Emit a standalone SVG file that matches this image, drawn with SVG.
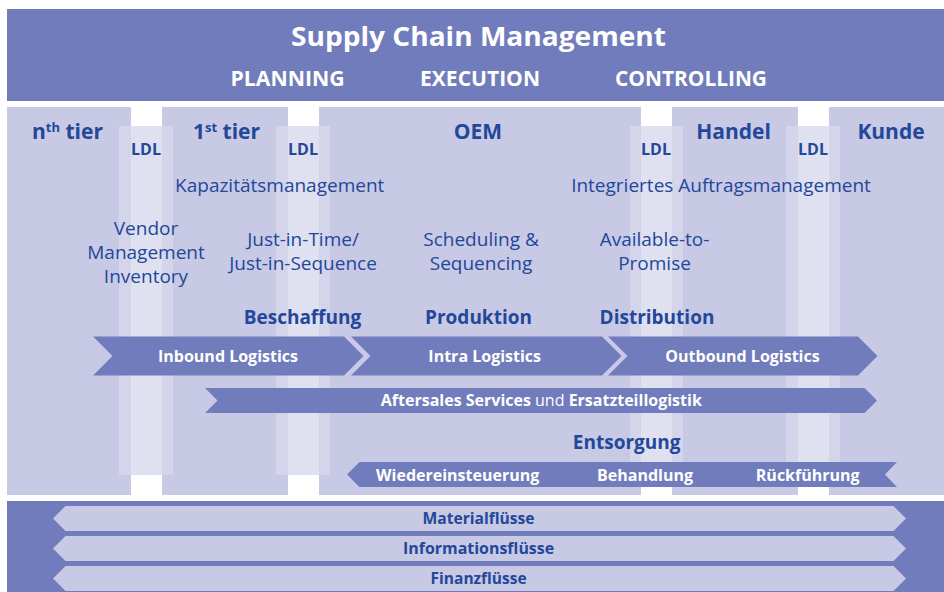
<svg xmlns="http://www.w3.org/2000/svg" width="944" height="592" viewBox="0 0 944 592">
<defs>
<style>
.dark{fill:#717cbc}
.col{fill:#c8c9e5}
.strip{fill:#d4d5ea}
.gap{fill:#dfe0f0}
.flow{fill:#c8c9e5}
text{font-family:"Open Sans","Noto Sans","Liberation Sans",sans-serif}
.hw{fill:#ffffff;font-weight:700;text-anchor:middle}
.hd{fill:#23479a;font-weight:700;font-size:21px;text-anchor:middle}
.ldl{fill:#23479a;font-weight:700;font-size:16px;text-anchor:middle}
.bt{fill:#23479a;font-size:19px;text-anchor:middle}
.sec{fill:#23479a;font-weight:700;font-size:19px;text-anchor:middle}
.at{fill:#ffffff;font-weight:700;font-size:16px;text-anchor:middle}
.ft{fill:#23479a;font-weight:700;font-size:16px;text-anchor:middle}
</style>
</defs>
<rect x="0" y="0" width="944" height="592" fill="#ffffff"/>

<g id="header">
<rect class="dark" x="7" y="9" width="937" height="92"/>
<text class="hw" x="478.5" y="46" font-size="27" textLength="375" lengthAdjust="spacingAndGlyphs">Supply Chain Management</text>
<text class="hw" x="287.5" y="86" font-size="21" textLength="114" lengthAdjust="spacingAndGlyphs">PLANNING</text>
<text class="hw" x="480" y="86" font-size="21" textLength="120" lengthAdjust="spacingAndGlyphs">EXECUTION</text>
<text class="hw" x="691" y="86" font-size="21" textLength="152" lengthAdjust="spacingAndGlyphs">CONTROLLING</text>
</g>

<g id="columns">
<rect class="col" x="7" y="107" width="124" height="388"/>
<rect class="col" x="162" y="107" width="126" height="388"/>
<rect class="col" x="319" y="107" width="322" height="388"/>
<rect class="col" x="672" y="107" width="126" height="388"/>
<rect class="col" x="829" y="107" width="115" height="388"/>
</g>

<g id="ldl-strips">
<rect class="strip" x="119" y="126" width="54" height="349"/>
<rect class="gap" x="131" y="126" width="31" height="349"/>
<rect class="strip" x="276" y="126" width="54" height="349"/>
<rect class="gap" x="288" y="126" width="31" height="349"/>
<rect class="strip" x="630" y="126" width="53" height="349"/>
<rect class="gap" x="641" y="126" width="31" height="349"/>
<rect class="strip" x="786" y="126" width="54" height="349"/>
<rect class="gap" x="798" y="126" width="31" height="349"/>
</g>

<g id="tier-n">
<text class="hd" x="32" y="139" text-anchor="start" style="text-anchor:start">n<tspan font-size="13" dy="-7">th</tspan><tspan dy="7"> tier</tspan></text>
</g>
<g id="tier-1">
<text class="hd" x="193" y="139" style="text-anchor:start">1<tspan font-size="13" dy="-7">st</tspan><tspan dy="7"> tier</tspan></text>
</g>
<g id="oem"><text class="hd" x="478" y="139">OEM</text></g>
<g id="handel"><text class="hd" x="733.5" y="139">Handel</text></g>
<g id="kunde"><text class="hd" x="891" y="139">Kunde</text></g>

<g id="ldl-labels">
<text class="ldl" x="146" y="155">LDL</text>
<text class="ldl" x="303" y="155">LDL</text>
<text class="ldl" x="656" y="155">LDL</text>
<text class="ldl" x="813" y="155">LDL</text>
</g>

<g id="kapazitaet"><text class="bt" x="279.7" y="191.5">Kapazitätsmanagement</text></g>
<g id="auftrag"><text class="bt" x="721" y="191.5">Integriertes Auftragsmanagement</text></g>
<g id="vmi">
<text class="bt" x="146" y="234.5">Vendor</text>
<text class="bt" x="146" y="258.5">Management</text>
<text class="bt" x="146" y="282.5">Inventory</text>
</g>
<g id="jit">
<text class="bt" x="303" y="245.5">Just-in-Time/</text>
<text class="bt" x="303" y="269.5">Just-in-Sequence</text>
</g>
<g id="scheduling">
<text class="bt" x="481" y="245.5">Scheduling &amp;</text>
<text class="bt" x="481" y="269.5">Sequencing</text>
</g>
<g id="atp">
<text class="bt" x="654.5" y="245.5">Available-to-</text>
<text class="bt" x="654.5" y="269.5">Promise</text>
</g>

<g id="sections">
<text class="sec" x="302.5" y="323.5">Beschaffung</text>
<text class="sec" x="478.5" y="323.5">Produktion</text>
<text class="sec" x="657" y="323.5">Distribution</text>
<text class="sec" x="626.7" y="448.5">Entsorgung</text>
</g>

<g id="inbound">
<polygon class="dark" points="93,336.5 344,336.5 363.5,356 344,375.5 93,375.5 112.5,356"/>
<text class="at" x="228" y="361.5">Inbound Logistics</text>
</g>
<g id="intra">
<polygon class="dark" points="351,336.5 602,336.5 621.5,356 602,375.5 351,375.5 370.5,356"/>
<text class="at" x="484.7" y="361.5">Intra Logistics</text>
</g>
<g id="outbound">
<polygon class="dark" points="608,336.5 858,336.5 877.5,356 858,375.5 608,375.5 627.5,356"/>
<text class="at" x="742.5" y="361.5">Outbound Logistics</text>
</g>
<g id="aftersales">
<polygon class="dark" points="205,388 864.5,388 877,400.5 864.5,413 205,413 217.5,400.5"/>
<text class="at" x="541.3" y="406">Aftersales Services <tspan font-weight="400">und</tspan> Ersatzteillogistik</text>
</g>
<g id="entsorgung">
<polygon class="dark" points="347,474.5 359.5,462 897,462 885,474.5 897,487 359.5,487"/>
<text class="at" x="457.7" y="480.5">Wiedereinsteuerung</text>
<text class="at" x="645" y="480.5">Behandlung</text>
<text class="at" x="807.7" y="480.5">Rückführung</text>
</g>

<g id="flows">
<rect class="dark" x="7" y="501" width="937" height="91"/>
<polygon class="flow" points="53,518.5 65.5,506 893.5,506 906,518.5 893.5,531 65.5,531"/>
<polygon class="flow" points="53,548.5 65.5,536 893.5,536 906,548.5 893.5,561 65.5,561"/>
<polygon class="flow" points="53,578.5 65.5,566 893.5,566 906,578.5 893.5,591 65.5,591"/>
</g>
<g id="materialfluesse"><text class="ft" x="478.6" y="523.5" textLength="112" lengthAdjust="spacingAndGlyphs">Materialflüsse</text></g>
<g id="informationsfluesse"><text class="ft" x="478.6" y="553.5" textLength="151" lengthAdjust="spacingAndGlyphs">Informationsflüsse</text></g>
<g id="finanzfluesse"><text class="ft" x="478.6" y="583.8" textLength="96" lengthAdjust="spacingAndGlyphs">Finanzflüsse</text></g>
<g id="connectors"></g>
</svg>
